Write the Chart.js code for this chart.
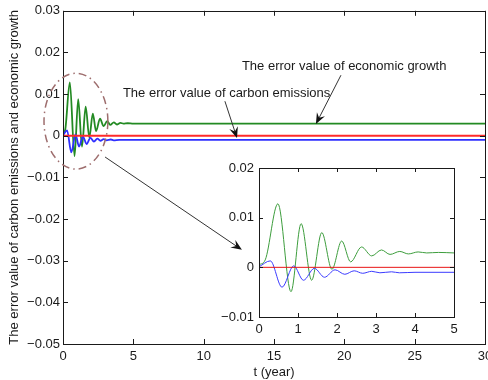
<!DOCTYPE html>
<html>
<head>
<meta charset="utf-8">
<script src="https://cdn.jsdelivr.net/npm/chart.js@4.4.0/dist/chart.umd.min.js"></script>
<style>
  html, body { margin: 0; padding: 0; background: #fff; overflow: hidden; }
  #wrap { position: relative; width: 488px; height: 380px; overflow: hidden; }
  #mainChart { position: absolute; left: 0; top: 0; }
  #insetChart { position: absolute; left: 200px; top: 150px; }
</style>
</head>
<body>
<div id="wrap">
  <canvas id="mainChart" width="500" height="380"></canvas>
  <canvas id="insetChart" width="270" height="200"></canvas>
</div>
<script>
// Error values (t in years)
const econTimes = [0, 0.16, 0.485, 0.82, 1.08, 1.35, 1.61, 1.87, 2.12, 2.35, 2.63, 2.89, 3.14, 3.36, 3.61, 3.83, 4.08, 4.3, 4.6, 5, 30];
const econErrors = [0.0005, 0.0015, 0.0128, -0.0049, 0.0088, -0.0026, 0.0070, -0.0004, 0.0053, 0.0011, 0.0041, 0.0023, 0.0035, 0.0026, 0.0032, 0.0027, 0.0031, 0.0029, 0.0030, 0.0029, 0.0029];

const carbonTimes = [0, 0.29, 0.59, 0.89, 1.14, 1.42, 1.68, 1.95, 2.2, 2.44, 2.66, 2.89, 3.1, 3.4, 3.6, 4, 5, 30];
const carbonErrors = [0.0001, 0.0013, -0.0040, 0.0003, -0.0026, -0.0002, -0.0020, -0.0005, -0.0014, -0.0007, -0.0012, -0.0008, -0.0011, -0.0009, -0.0011, -0.0010, -0.0010, -0.0010];

const zeroTimes = [0, 30];
const zeroErrors = [0, 0];

// Tick values
const mainXTicks = [0, 5, 10, 15, 20, 25, 30];
const mainYTicks = [-0.05, -0.04, -0.03, -0.02, -0.01, 0, 0.01, 0.02, 0.03];
const insetXTicks = [0, 1, 2, 3, 4, 5];
const insetYTicks = [-0.01, 0, 0.01, 0.02];

const FONT = "'Liberation Sans', Arial, Helvetica, sans-serif";
const TEXT = '#1a1a1a';

function toPoints(times, values, maxT) {
  const pts = [];
  times.forEach((t, i) => {
    if (t <= maxT) pts.push({ x: t, y: values[i] });
  });
  return pts;
}

function fmtY(v) {
  if (Math.abs(v) < 1e-9) return '0';
  return (v < 0 ? '\u2212' : '') + Math.abs(v).toFixed(2);
}

// Box with inward ticks on all four sides (MATLAB style)
const boxTicks = {
  id: 'boxTicks',
  afterDraw(chart, args, opts) {
    const { ctx, chartArea: a } = chart;
    const xs = chart.scales.x, ys = chart.scales.y;
    const len = opts.len || 5;
    ctx.save();
    ctx.strokeStyle = TEXT;
    ctx.lineWidth = 1;
    ctx.strokeRect(Math.round(a.left) + 0.5, Math.round(a.top) + 0.5,
      Math.round(a.right - a.left), Math.round(a.bottom - a.top));
    ctx.beginPath();
    xs.ticks.forEach(t => {
      const px = Math.round(xs.getPixelForValue(t.value)) + 0.5;
      ctx.moveTo(px, a.bottom); ctx.lineTo(px, a.bottom - len);
      ctx.moveTo(px, a.top); ctx.lineTo(px, a.top + len);
    });
    ys.ticks.forEach(t => {
      const py = Math.round(ys.getPixelForValue(t.value)) + 0.5;
      ctx.moveTo(a.left, py); ctx.lineTo(a.left + len, py);
      ctx.moveTo(a.right, py); ctx.lineTo(a.right - len, py);
    });
    ctx.stroke();
    ctx.restore();
  }
};

// Annotations in data units of the main axes
const econLabel = { t: 12.72, v: 0.01586, text: 'The error value of economic growth' };
const carbonLabel = { t: 4.26, v: 0.00937, text: 'The error value of carbon emissions' };
const econArrow = { from: [19.76, 0.01454], to: [17.98, 0.0028] };
const carbonArrow = { from: [11.51, 0.00829], to: [12.37, -0.00055] };
const zoomArrow = { from: [2.99, -0.0051], to: [12.72, -0.0274] };
const zoomEllipse = { t: 0.92, v: 0.0035, rt: 2.27, rv: 0.0115 };

function drawArrow(ctx, x1, y1, x2, y2) {
  const ang = Math.atan2(y2 - y1, x2 - x1);
  ctx.beginPath();
  ctx.moveTo(x1, y1);
  ctx.lineTo(x2 - Math.cos(ang) * 5, y2 - Math.sin(ang) * 5);
  ctx.stroke();
  ctx.save();
  ctx.translate(x2, y2);
  ctx.rotate(ang);
  ctx.beginPath();
  ctx.moveTo(0, 0);
  ctx.lineTo(-11, -4.5);
  ctx.lineTo(-7, 0);
  ctx.lineTo(-11, 4.5);
  ctx.closePath();
  ctx.fill();
  ctx.restore();
}

const annotations = {
  id: 'annotations',
  afterDraw(chart) {
    const { ctx } = chart;
    const xs = chart.scales.x, ys = chart.scales.y;
    const px = t => xs.getPixelForValue(t);
    const py = v => ys.getPixelForValue(v);
    ctx.save();
    ctx.font = '13px ' + FONT;
    ctx.fillStyle = TEXT;
    ctx.textBaseline = 'alphabetic';
    ctx.textAlign = 'left';
    [econLabel, carbonLabel].forEach(l => ctx.fillText(l.text, px(l.t), py(l.v)));

    ctx.strokeStyle = '#333';
    ctx.fillStyle = '#111';
    ctx.lineWidth = 1;
    [econArrow, carbonArrow, zoomArrow].forEach(a => {
      drawArrow(ctx, px(a.from[0]), py(a.from[1]), px(a.to[0]), py(a.to[1]));
    });

    const cx = px(zoomEllipse.t), cy = py(zoomEllipse.v);
    const rx = px(zoomEllipse.t + zoomEllipse.rt) - cx;
    const ry = cy - py(zoomEllipse.v + zoomEllipse.rv);
    ctx.strokeStyle = '#9e6e6e';
    ctx.lineWidth = 1.5;
    ctx.setLineDash([8, 4, 1.5, 4]);
    ctx.beginPath();
    ctx.ellipse(cx, cy, rx, ry, 0, 0, Math.PI * 2);
    ctx.stroke();
    ctx.restore();
  }
};

function lineSet(data, color, width) {
  return {
    data: data,
    borderColor: color,
    borderWidth: width,
    pointRadius: 0,
    fill: false,
    cubicInterpolationMode: 'monotone'
  };
}

function axisFont() {
  return { family: FONT, size: 13 };
}

// Main chart
new Chart(document.getElementById('mainChart'), {
  type: 'line',
  data: {
    datasets: [
      lineSet(toPoints(zeroTimes, zeroErrors, 30), '#ff2a2a', 1.8),
      lineSet(toPoints(carbonTimes, carbonErrors, 30), '#2f2fff', 1.8),
      lineSet(toPoints(econTimes, econErrors, 30), '#238a23', 1.8)
    ]
  },
  options: {
    responsive: false,
    animation: false,
    events: [],
    layout: { padding: { top: 10, right: 15, bottom: 0, left: 0 } },
    plugins: { legend: { display: false }, tooltip: { enabled: false }, boxTicks: { len: 5 } },
    scales: {
      x: {
        type: 'linear', min: 0, max: 30,
        afterBuildTicks: s => { s.ticks = mainXTicks.map(v => ({ value: v })); },
        afterFit: s => { s.height = 36; },
        grid: { display: false, drawTicks: false },
        border: { display: false },
        ticks: { color: TEXT, font: axisFont(), padding: 5, maxRotation: 0, callback: v => String(v) },
        title: { display: true, text: 't (year)', color: TEXT, font: axisFont(), padding: { top: 0, bottom: 0 } }
      },
      y: {
        type: 'linear', min: -0.05, max: 0.03,
        afterBuildTicks: s => { s.ticks = mainYTicks.map(v => ({ value: v })); },
        afterFit: s => { s.width = 63; },
        grid: { display: false, drawTicks: false },
        border: { display: false },
        ticks: { color: TEXT, font: axisFont(), padding: 3, callback: v => fmtY(v) },
        title: { display: true, text: 'The error value of carbon emissions and economic growth', color: TEXT, font: axisFont(), padding: { top: 7, bottom: 0 } }
      }
    }
  },
  plugins: [boxTicks, annotations]
});

// Inset chart: zoom on the first five years
new Chart(document.getElementById('insetChart'), {
  type: 'line',
  data: {
    datasets: [
      lineSet(toPoints(zeroTimes, zeroErrors, 30).map(p => ({ x: Math.min(p.x, 5), y: p.y })), '#e81515', 1),
      lineSet(toPoints(carbonTimes, carbonErrors, 5), '#3b3bff', 1),
      lineSet(toPoints(econTimes, econErrors, 5), '#3d9d3d', 1)
    ]
  },
  options: {
    responsive: false,
    animation: false,
    events: [],
    layout: { padding: { top: 18, right: 16, bottom: 0, left: 0 } },
    plugins: { legend: { display: false }, tooltip: { enabled: false }, boxTicks: { len: 4 } },
    scales: {
      x: {
        type: 'linear', min: 0, max: 5,
        afterBuildTicks: s => { s.ticks = insetXTicks.map(v => ({ value: v })); },
        afterFit: s => { s.height = 33; },
        grid: { display: false, drawTicks: false },
        border: { display: false },
        ticks: { color: TEXT, font: axisFont(), padding: 5, maxRotation: 0, callback: v => String(v) }
      },
      y: {
        type: 'linear', min: -0.01, max: 0.02,
        afterBuildTicks: s => { s.ticks = insetYTicks.map(v => ({ value: v })); },
        afterFit: s => { s.width = 59; },
        grid: { display: false, drawTicks: false },
        border: { display: false },
        ticks: { color: TEXT, font: axisFont(), padding: 5, callback: v => fmtY(v) }
      }
    }
  },
  plugins: [boxTicks]
});
</script>
</body>
</html>
